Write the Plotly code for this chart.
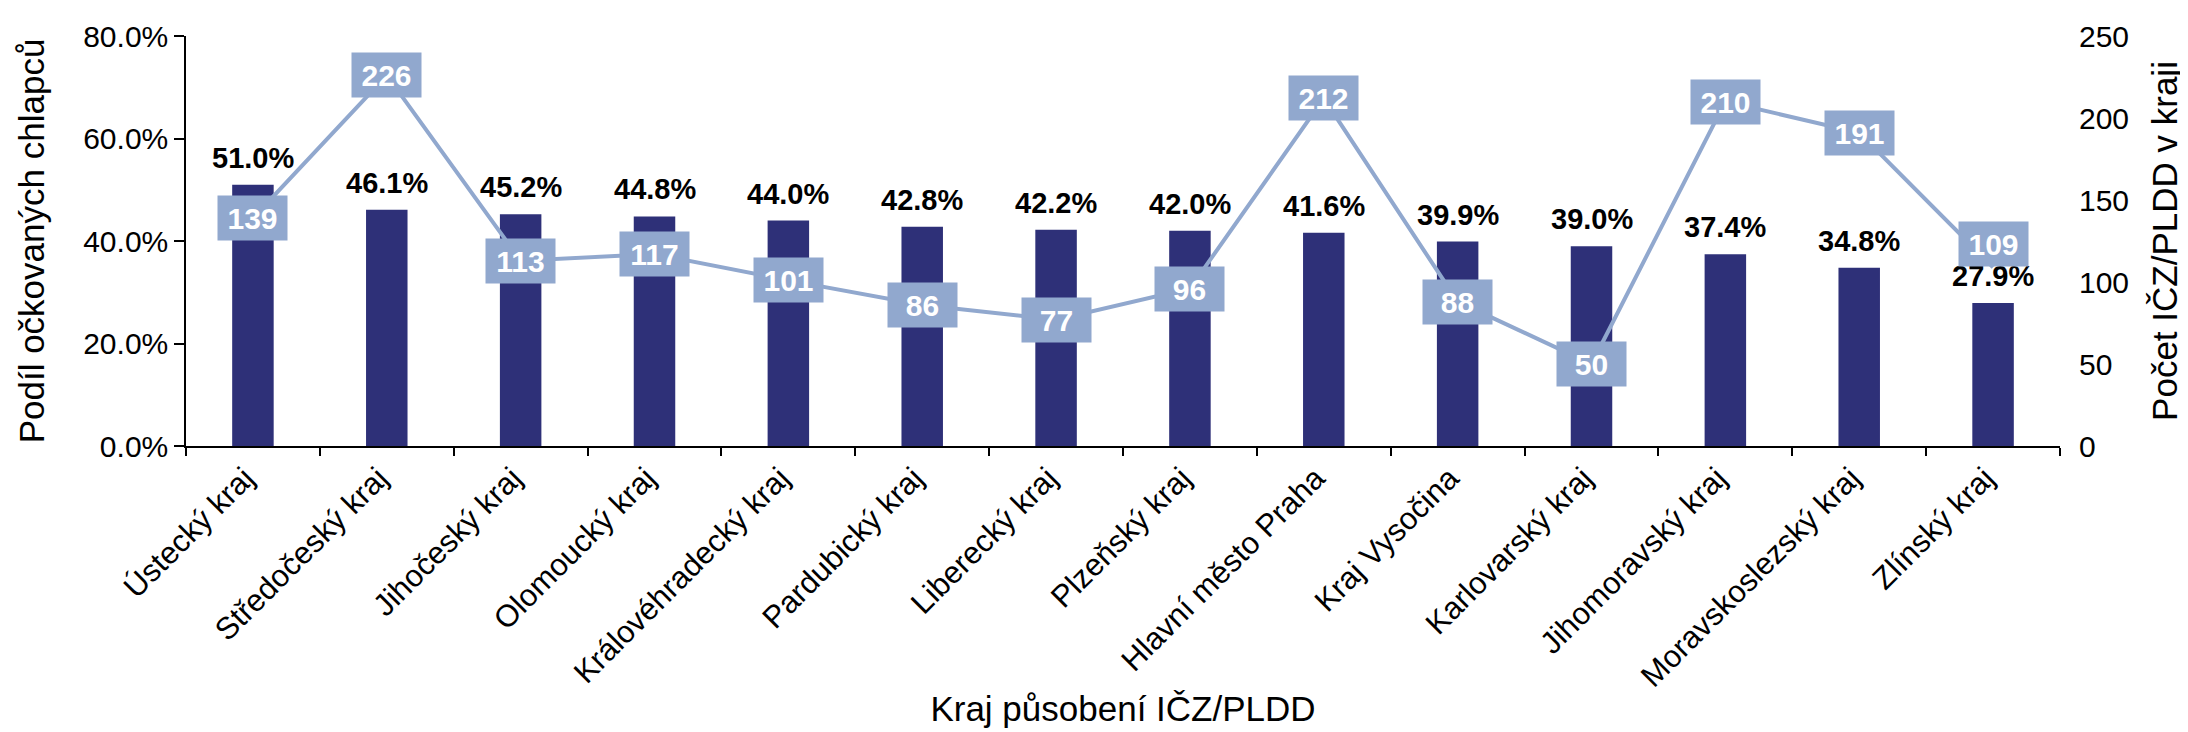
import plotly.graph_objects as go

categories = ["Ústecký kraj", "Středočeský kraj", "Jihočeský kraj", "Olomoucký kraj",
              "Královéhradecký kraj", "Pardubický kraj", "Liberecký kraj", "Plzeňský kraj",
              "Hlavní město Praha", "Kraj Vysočina", "Karlovarský kraj", "Jihomoravský kraj",
              "Moravskoslezský kraj", "Zlínský kraj"]
share_vaccinated = [0.510, 0.461, 0.452, 0.448, 0.440, 0.428, 0.422, 0.420, 0.416,
                    0.399, 0.390, 0.374, 0.348, 0.279]
count_providers = [139, 226, 113, 117, 101, 86, 77, 96, 212, 88, 50, 210, 191, 109]

y1_ticks = [0.0, 0.2, 0.4, 0.6, 0.8]
y2_ticks = [0, 50, 100, 150, 200, 250]

# label that was nudged upward in the original to avoid the bar label beneath it
line_label_shift = {"Zlínský kraj": 23}

BAR = "#2E3078"
LINE = "#91A8CE"
FONT = "Liberation Sans, Arial, sans-serif"

fig = go.Figure()
fig.add_trace(go.Bar(x=categories, y=share_vaccinated, marker=dict(color=BAR, line=dict(width=0)),
                     showlegend=False, hoverinfo="skip"))
fig.add_trace(go.Scatter(x=categories, y=count_providers, yaxis="y2", mode="lines",
                         line=dict(color=LINE, width=4), showlegend=False, hoverinfo="skip"))

annotations = []
for c, v in zip(categories, share_vaccinated):
    annotations.append(dict(x=c, y=v, xref="x", yref="y", text=f"{v*100:.1f}%",
                            showarrow=False, yanchor="bottom", yshift=9,
                            font=dict(family=FONT, size=29, color="black", weight="bold")))
for c, n in zip(categories, count_providers):
    annotations.append(dict(x=c, y=n, xref="x", yref="y2", text=f"<b>{n}</b>",
                            showarrow=False, xanchor="center", yanchor="middle",
                            yshift=line_label_shift.get(c, 0),
                            bgcolor=LINE, width=69, height=44, borderpad=0,
                            font=dict(family=FONT, size=30, color="white")))

fig.update_layout(
    width=2188, height=732,
    margin=dict(l=178, r=136, t=28, b=294, autoexpand=False),
    plot_bgcolor="white", paper_bgcolor="white",
    font=dict(family=FONT, size=30, color="black"),
    bargap=0.69,
    annotations=annotations,
    xaxis=dict(
        type="category", tickangle=-45, tickson="boundaries",
        ticks="outside", ticklen=8, tickwidth=1.5, tickcolor="black",
        showline=True, linecolor="black", linewidth=1.5, showgrid=False,
        tickfont=dict(size=31), automargin=False, ticklabelshift=-8,
        title=dict(text="Kraj působení IČZ/PLDD", font=dict(size=35), standoff=4),
    ),
    yaxis=dict(
        range=[0, 0.8], tickvals=y1_ticks, tickformat=".1%",
        ticks="outside", ticklen=10, tickwidth=1.5, tickcolor="black",
        showline=True, linecolor="black", linewidth=1.5, showgrid=False, zeroline=False,
        tickfont=dict(size=30), automargin=False,
        title=dict(text="Podíl očkovaných chlapců", font=dict(size=35), standoff=28),
    ),
    yaxis2=dict(
        range=[0, 250], tickvals=y2_ticks, overlaying="y", side="right",
        showline=False, showgrid=False, zeroline=False, ticks="",
        ticklabelstandoff=18,
        tickfont=dict(size=30), automargin=False,
        title=dict(text="Počet IČZ/PLDD v kraji", font=dict(size=35), standoff=24),
    ),
)

fig.write_html("out.html")
